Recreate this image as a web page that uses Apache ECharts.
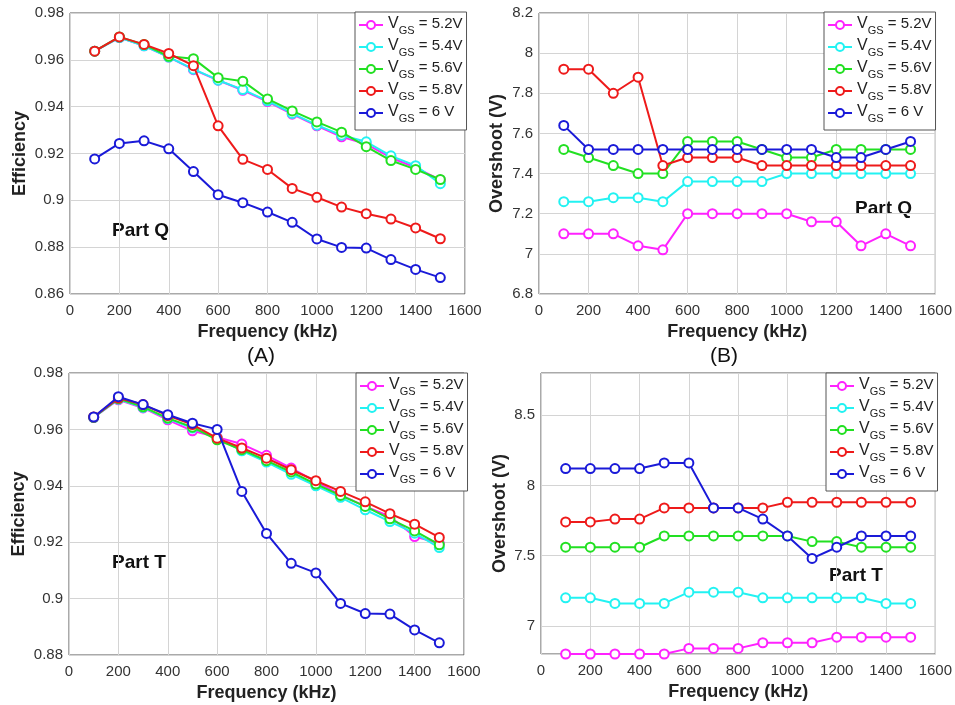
<!DOCTYPE html>
<html>
<head>
<meta charset="utf-8">
<script src="https://cdn.jsdelivr.net/npm/echarts@6/dist/echarts.min.js"></script>
<style>
  html, body { margin: 0; padding: 0; background: #ffffff; }
  #chart { width: 955px; height: 705px; }
</style>
</head>
<body>
<div id="chart"></div>
<script>
// Switching frequency (kHz)
const freq = [100, 200, 300, 400, 500, 600, 700, 800, 900, 1000, 1100, 1200, 1300, 1400, 1500];

// Gate-source voltage levels
const vgsLevels = ['5.2V', '5.4V', '5.6V', '5.8V', '6 V'];
const vgsColors = ['#ff22ff', '#22f2f2', '#22e022', '#ee1a1a', '#1a1ad8'];

// Part Q – efficiency
const effQ52 = [0.9637, 0.9695, 0.9660, 0.9612, 0.9558, 0.9513, 0.9470, 0.9422, 0.9368, 0.9318, 0.9271, 0.9240, 0.9182, 0.9140, 0.9087];
const effQ54 = [0.9637, 0.9695, 0.9660, 0.9612, 0.9560, 0.9513, 0.9473, 0.9425, 0.9371, 0.9321, 0.9278, 0.9250, 0.9190, 0.9148, 0.9071];
const effQ56 = [0.9637, 0.9698, 0.9665, 0.9615, 0.9605, 0.9524, 0.9509, 0.9433, 0.9382, 0.9335, 0.9291, 0.9229, 0.9170, 0.9132, 0.9089];
const effQ58 = [0.9637, 0.9698, 0.9666, 0.9627, 0.9575, 0.9318, 0.9175, 0.9132, 0.9051, 0.9013, 0.8971, 0.8943, 0.8920, 0.8882, 0.8836];
const effQ60 = [0.9177, 0.9243, 0.9254, 0.9220, 0.9123, 0.9024, 0.8990, 0.8950, 0.8906, 0.8835, 0.8799, 0.8796, 0.8747, 0.8705, 0.8670];

// Part Q – overshoot (V)
const ovQ52 = [7.10, 7.10, 7.10, 7.04, 7.02, 7.20, 7.20, 7.20, 7.20, 7.20, 7.16, 7.16, 7.04, 7.10, 7.04];
const ovQ54 = [7.26, 7.26, 7.28, 7.28, 7.26, 7.36, 7.36, 7.36, 7.36, 7.40, 7.40, 7.40, 7.40, 7.40, 7.40];
const ovQ56 = [7.52, 7.48, 7.44, 7.40, 7.40, 7.56, 7.56, 7.56, 7.52, 7.48, 7.48, 7.52, 7.52, 7.52, 7.52];
const ovQ58 = [7.92, 7.92, 7.80, 7.88, 7.44, 7.48, 7.48, 7.48, 7.44, 7.44, 7.44, 7.44, 7.44, 7.44, 7.44];
const ovQ60 = [7.64, 7.52, 7.52, 7.52, 7.52, 7.52, 7.52, 7.52, 7.52, 7.52, 7.52, 7.48, 7.48, 7.52, 7.56];

// Part T – efficiency
const effT52 = [0.9642, 0.9705, 0.9676, 0.9634, 0.9595, 0.9572, 0.9548, 0.9508, 0.9463, 0.9415, 0.9368, 0.9327, 0.9291, 0.9220, 0.9196];
const effT54 = [0.9642, 0.9707, 0.9678, 0.9638, 0.9605, 0.9570, 0.9524, 0.9484, 0.9441, 0.9400, 0.9359, 0.9315, 0.9273, 0.9232, 0.9181];
const effT56 = [0.9643, 0.9709, 0.9680, 0.9640, 0.9608, 0.9563, 0.9528, 0.9489, 0.9449, 0.9406, 0.9366, 0.9327, 0.9283, 0.9240, 0.9191];
const effT58 = [0.9644, 0.9711, 0.9688, 0.9649, 0.9617, 0.9569, 0.9534, 0.9498, 0.9457, 0.9418, 0.9380, 0.9343, 0.9301, 0.9264, 0.9217];
const effT60 = [0.9644, 0.9716, 0.9688, 0.9652, 0.9622, 0.9600, 0.9380, 0.9231, 0.9125, 0.9091, 0.8983, 0.8947, 0.8945, 0.8889, 0.8843];

// Part T – overshoot (V)
const ovT52 = [6.80, 6.80, 6.80, 6.80, 6.80, 6.84, 6.84, 6.84, 6.88, 6.88, 6.88, 6.92, 6.92, 6.92, 6.92];
const ovT54 = [7.20, 7.20, 7.16, 7.16, 7.16, 7.24, 7.24, 7.24, 7.20, 7.20, 7.20, 7.20, 7.20, 7.16, 7.16];
const ovT56 = [7.56, 7.56, 7.56, 7.56, 7.64, 7.64, 7.64, 7.64, 7.64, 7.64, 7.60, 7.60, 7.56, 7.56, 7.56];
const ovT58 = [7.74, 7.74, 7.76, 7.76, 7.84, 7.84, 7.84, 7.84, 7.84, 7.88, 7.88, 7.88, 7.88, 7.88, 7.88];
const ovT60 = [8.12, 8.12, 8.12, 8.12, 8.16, 8.16, 7.84, 7.84, 7.76, 7.64, 7.48, 7.56, 7.64, 7.64, 7.64];

const panels = [
  { sets: [effQ52, effQ54, effQ56, effQ58, effQ60], yName: 'Efficiency',    yMin: 0.86, yMax: 0.98, yStep: 0.02, nameGap: 41 },
  { sets: [ovQ52, ovQ54, ovQ56, ovQ58, ovQ60],      yName: 'Overshoot (V)', yMin: 6.8,  yMax: 8.2,  yStep: 0.2,  nameGap: 33 },
  { sets: [effT52, effT54, effT56, effT58, effT60], yName: 'Efficiency',    yMin: 0.88, yMax: 0.98, yStep: 0.02, nameGap: 41 },
  { sets: [ovT52, ovT54, ovT56, ovT58, ovT60],      yName: 'Overshoot (V)', yMin: 6.8,  yMax: 8.8,  yStep: null, nameGap: 32 }
];

const FONT = '"Liberation Sans", Arial, sans-serif';
const gridBoxes = [
  { left: 70,  top: 13,  width: 395, height: 281 },
  { left: 539, top: 13,  width: 397, height: 281 },
  { left: 69,  top: 373, width: 395, height: 282 },
  { left: 541, top: 373, width: 396, height: 281 }
];
const legendPos = [
  { left: 355, top: 12 },
  { left: 824, top: 12 },
  { left: 356, top: 373 },
  { left: 826, top: 373 }
];

const seriesName = (k) => 'VGS = ' + vgsLevels[k];

const grids = gridBoxes.map(b => Object.assign({
  show: true, borderColor: '#555', borderWidth: 1, backgroundColor: '#fff'
}, b));

const xAxes = panels.map((p, i) => ({
  type: 'value', gridIndex: i, min: 0, max: 1600, interval: 200,
  name: 'Frequency (kHz)', nameLocation: 'middle', nameGap: 29,
  nameTextStyle: { fontFamily: FONT, fontSize: 18, fontWeight: 'bold', color: '#222' },
  axisLine: { show: false }, axisTick: { show: false },
  axisLabel: { fontFamily: FONT, fontSize: 15, color: '#333', margin: 9, formatter: v => String(v) },
  splitLine: { show: true, lineStyle: { color: '#d4d4d4', width: 1 } }
}));

const yAxes = panels.map((p, i) => {
  const ax = {
    type: 'value', gridIndex: i, min: p.yMin, max: p.yMax,
    name: p.yName, nameLocation: 'middle', nameGap: p.nameGap,
    nameTextStyle: { fontFamily: FONT, fontSize: 18, fontWeight: 'bold', color: '#222' },
    axisLine: { show: false }, axisTick: { show: false },
    axisLabel: { fontFamily: FONT, fontSize: 15, color: '#333', margin: 6 },
    splitLine: { show: true, lineStyle: { color: '#d4d4d4', width: 1 } }
  };
  if (p.yStep) {
    ax.interval = p.yStep;
  } else {
    ax.splitNumber = 4;
    ax.axisLabel.showMinLabel = false;
    ax.axisLabel.showMaxLabel = false;
  }
  return ax;
});

const series = [];
panels.forEach((p, i) => {
  p.sets.forEach((vals, k) => {
    series.push({
      type: 'line', name: seriesName(k), xAxisIndex: i, yAxisIndex: i,
      data: freq.map((f, j) => [f, vals[j]]),
      symbol: 'emptyCircle', symbolSize: 9, clip: false,
      lineStyle: { color: vgsColors[k], width: 2 },
      itemStyle: { color: vgsColors[k], borderColor: vgsColors[k], borderWidth: 2 },
      z: 2 + k, animation: false
    });
  });
});

const legends = legendPos.map(pos => ({
  left: pos.left, top: pos.top, orient: 'vertical',
  data: vgsLevels.map((v, k) => seriesName(k)),
  itemWidth: 24, itemHeight: 10, itemGap: 2,
  padding: [4, 4, 6, 3],
  backgroundColor: '#fff', borderColor: '#555', borderWidth: 1,
  selectedMode: false,
  formatter: (name) => '{v|V}{s|GS}{t| = ' + name.slice(6) + '}',
  textStyle: {
    rich: {
      v: { fontFamily: FONT, fontSize: 16, color: '#222', lineHeight: 18, verticalAlign: 'top' },
      s: { fontFamily: FONT, fontSize: 11, color: '#222', lineHeight: 13, padding: [9, 0, 0, 0], verticalAlign: 'top' },
      t: { fontFamily: FONT, fontSize: 15, color: '#222', lineHeight: 18, verticalAlign: 'top' }
    }
  }
}));

const textEl = (x, y, s, size, weight) => ({
  type: 'text', left: x, top: y,
  style: { text: s, font: weight + ' ' + size + 'px ' + FONT, fill: '#111' }
});

const option = {
  backgroundColor: '#fff',
  animation: false,
  grid: grids,
  xAxis: xAxes,
  yAxis: yAxes,
  legend: legends,
  series: series,
  graphic: [
    textEl(112, 221, 'Part Q', 19, 'bold'),
    textEl(855, 199, 'Part Q', 19, 'bold'),
    textEl(112, 553, 'Part T', 19, 'bold'),
    textEl(829, 566, 'Part T', 19, 'bold'),
    textEl(247, 346, '(A)', 21, 'normal'),
    textEl(710, 346, '(B)', 21, 'normal')
  ]
};

const chart = echarts.init(document.getElementById('chart'), null, { renderer: 'canvas' });
chart.setOption(option);
</script>
</body>
</html>
